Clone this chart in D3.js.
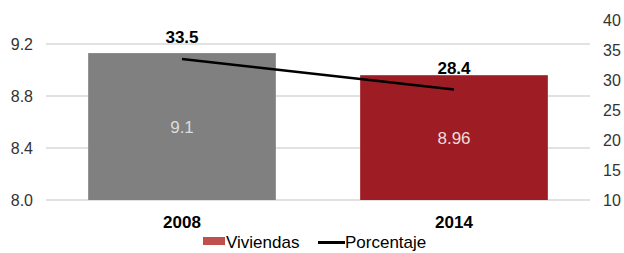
<!DOCTYPE html>
<html>
<head>
<meta charset="utf-8">
<script src="https://cdn.jsdelivr.net/npm/d3@7"></script>
<style>
  body { margin: 0; background: #fff; }
  svg { display: block; font-family: "Liberation Sans", Arial, sans-serif; }
</style>
</head>
<body>
<svg id="chart" width="624" height="253"></svg>
<script>
const years = ["2008", "2014"];
const viviendas = [9.13, 8.96];
const viviendaLabels = ["9.1", "8.96"];
const porcentaje = [33.5, 28.4];
const leftTicks = [8.0, 8.4, 8.8, 9.2];
const rightTicks = [10, 15, 20, 25, 30, 35, 40];
const barColors = ["#808080", "#9e1c23"];

const svg = d3.select('#chart');
const margin = {top: 20, left: 46, right: 34, bottom: 53};
const W = 624, H = 253;

const x = d3.scaleBand()
    .domain(years)
    .range([margin.left, W - margin.right])
    .paddingInner(0.31)
    .paddingOuter(0.155);

const yL = d3.scaleLinear()
    .domain([8.0, 9.2 + 0.4 * 24 / 52])
    .range([H - margin.bottom, margin.top]);

const yR = d3.scaleLinear()
    .domain([10, 40])
    .range([H - margin.bottom, margin.top]);

// gridlines
svg.append("g")
    .selectAll("line")
    .data(leftTicks)
    .enter().append("line")
    .attr("x1", margin.left)
    .attr("x2", W - margin.right)
    .attr("y1", d => yL(d))
    .attr("y2", d => yL(d))
    .attr("stroke", "#d9d9d9")
    .attr("stroke-width", 1.5);

// left axis
const axL = svg.append("g")
    .attr("transform", `translate(${margin.left - 13},0)`)
    .call(d3.axisLeft(yL).tickValues(leftTicks).tickFormat(d3.format(".1f")).tickSize(0).tickPadding(0));
axL.select(".domain").remove();
axL.selectAll("text").attr("font-size", 16).attr("fill", "#333").attr("font-family", "Liberation Sans, Arial, sans-serif");

// right axis
const axR = svg.append("g")
    .attr("transform", `translate(${W - margin.right + 13},0)`)
    .call(d3.axisRight(yR).tickValues(rightTicks).tickSize(0).tickPadding(0));
axR.select(".domain").remove();
axR.selectAll("text").attr("font-size", 16).attr("fill", "#333").attr("font-family", "Liberation Sans, Arial, sans-serif");

// bars
svg.append("g")
    .selectAll("rect")
    .data(viviendas)
    .enter().append("rect")
    .attr("x", (d, i) => x(years[i]))
    .attr("width", x.bandwidth())
    .attr("y", d => yL(d))
    .attr("height", d => yL(8.0) - yL(d))
    .attr("fill", (d, i) => barColors[i]);

svg.append("g")
    .attr("text-anchor", "middle")
    .selectAll("text")
    .data(viviendas)
    .enter().append("text")
    .attr("x", (d, i) => x(years[i]) + x.bandwidth() / 2)
    .attr("y", d => (yL(d) + yL(8.0)) / 2)
    .attr("dy", "0.35em")
    .attr("font-size", 17)
    .attr("fill", (d, i) => i === 0 ? "#dcdcdc" : "#f0dcdc")
    .text((d, i) => viviendaLabels[i]);

// line
const line = d3.line()
    .x((d, i) => x(years[i]) + x.bandwidth() / 2)
    .y(d => yR(d));

svg.append("path")
    .datum(porcentaje)
    .attr("d", line)
    .attr("fill", "none")
    .attr("stroke", "#000")
    .attr("stroke-width", 2.5);

svg.append("g")
    .attr("text-anchor", "middle")
    .selectAll("text")
    .data(porcentaje)
    .enter().append("text")
    .attr("x", (d, i) => x(years[i]) + x.bandwidth() / 2)
    .attr("y", d => yR(d) - 16)
    .attr("font-size", 17)
    .attr("font-weight", "bold")
    .attr("fill", "#000")
    .text(d => d.toFixed(1));

// category labels
svg.append("g")
    .attr("text-anchor", "middle")
    .selectAll("text")
    .data(years)
    .enter().append("text")
    .attr("x", d => x(d) + x.bandwidth() / 2)
    .attr("y", 228)
    .attr("font-size", 17)
    .attr("font-weight", "bold")
    .attr("fill", "#000")
    .text(d => d);

// legend
const leg = svg.append("g");
leg.append("rect")
    .attr("x", 203).attr("y", 237)
    .attr("width", 22).attr("height", 8)
    .attr("fill", "#c0504d");
leg.append("text")
    .attr("x", 226).attr("y", 248)
    .attr("font-size", 17).attr("fill", "#000")
    .text("Viviendas");
leg.append("line")
    .attr("x1", 318).attr("x2", 345)
    .attr("y1", 242.5).attr("y2", 242.5)
    .attr("stroke", "#000").attr("stroke-width", 3);
leg.append("text")
    .attr("x", 345).attr("y", 248)
    .attr("font-size", 17).attr("fill", "#000")
    .text("Porcentaje");
</script>
</body>
</html>
